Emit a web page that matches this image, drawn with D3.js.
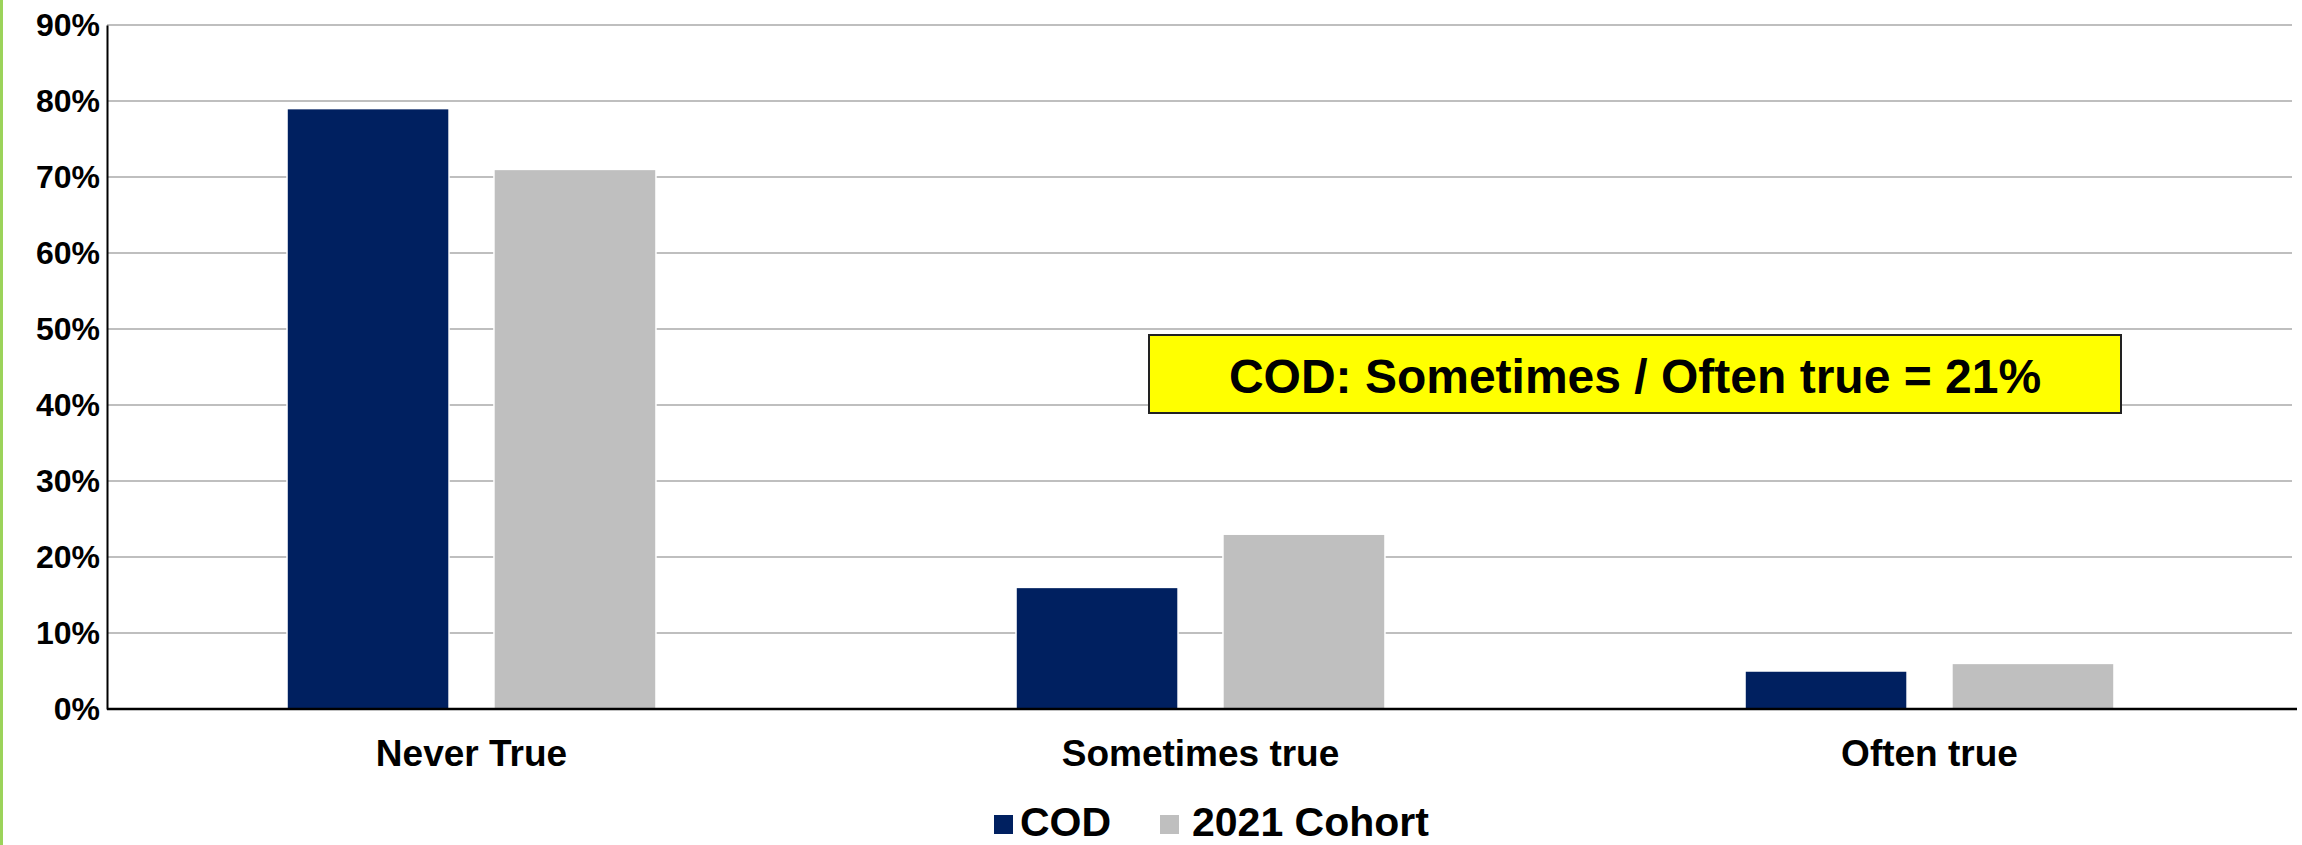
<!DOCTYPE html>
<html>
<head>
<meta charset="utf-8">
<script src="https://cdn.jsdelivr.net/npm/d3@7"></script>
<style>
  html, body { margin: 0; padding: 0; background: #ffffff; }
  svg { display: block; }
  text { font-family: "Liberation Sans", Arial, sans-serif; font-weight: bold; fill: #000; }
</style>
</head>
<body>
<svg id="chart" width="2302" height="845"></svg>
<script>
// Survey responses by category
const categories = ["Never True", "Sometimes true", "Often true"];
const seriesNames = ["COD", "2021 Cohort"];
const codValues = [0.79, 0.16, 0.05];
const cohortValues = [0.71, 0.23, 0.06];
const yTicks = [0, 0.1, 0.2, 0.3, 0.4, 0.5, 0.6, 0.7, 0.8, 0.9];
const calloutText = "COD: Sometimes / Often true = 21%";

const colors = { "COD": "#002060", "2021 Cohort": "#bfbfbf" };
const seriesValues = { "COD": codValues, "2021 Cohort": cohortValues };

const W = 2302, H = 845;
const plot = { left: 107, right: 2294, top: 25, bottom: 709 };

const svg = d3.select("#chart");

// thin green strip on the left edge
svg.append("rect").attr("x", 0).attr("y", 0).attr("width", 3).attr("height", H)
  .attr("fill", "#9bd35a");

const x = d3.scaleBand().domain(categories).range([plot.left, plot.right]).padding(0);
const xSub = d3.scaleBand().domain(seriesNames).range([0, x.bandwidth()])
  .paddingInner(0.217).paddingOuter(0.87);
const y = d3.scaleLinear().domain([0, 0.9]).range([plot.bottom, plot.top]);

// horizontal gridlines
svg.append("g").selectAll("line").data(yTicks.filter(t => t > 0)).join("line")
  .attr("x1", plot.left).attr("x2", 2292)
  .attr("y1", d => y(d)).attr("y2", d => y(d))
  .attr("stroke", "#bfbfbf").attr("stroke-width", 2);

// bars
const rows = categories.map((c, i) => ({ cat: c, vals: seriesNames.map(s => ({ s, v: seriesValues[s][i] })) }));
svg.append("g").selectAll("g").data(rows).join("g")
  .attr("transform", d => `translate(${x(d.cat)},0)`)
  .selectAll("rect").data(d => d.vals).join("rect")
  .attr("x", d => xSub(d.s))
  .attr("width", xSub.bandwidth())
  .attr("y", d => y(d.v))
  .attr("height", d => y(0) - y(d.v))
  .attr("fill", d => colors[d.s])
  .attr("stroke", "#ffffff").attr("stroke-width", 1.5);

// y axis
const yAxis = d3.axisLeft(y).tickValues(yTicks).tickFormat(d3.format(".0%")).tickSize(0).tickPadding(7);
const gy = svg.append("g").attr("transform", `translate(${plot.left},0)`).call(yAxis);
gy.select(".domain").attr("stroke", "#000").attr("stroke-width", 2);
gy.selectAll("text").style("font-size", "32px").attr("fill", "#000")
  .style("font-family", '"Liberation Sans", Arial, sans-serif').style("font-weight", "bold");

// x axis
const xAxis = d3.axisBottom(x).tickSize(0).tickPadding(0);
const gx = svg.append("g").attr("transform", `translate(0,${plot.bottom})`).call(xAxis);
gx.select(".domain").attr("d", `M${plot.left},0H2297`).attr("stroke", "#000").attr("stroke-width", 2.5);
gx.selectAll("text").attr("y", 57).attr("dy", null).style("font-size", "37px").attr("fill", "#000")
  .style("font-family", '"Liberation Sans", Arial, sans-serif').style("font-weight", "bold");

// callout box
const box = { x1: 1149, y1: 335, x2: 2121, y2: 413 };
svg.append("rect").attr("x", box.x1).attr("y", box.y1)
  .attr("width", box.x2 - box.x1).attr("height", box.y2 - box.y1)
  .attr("fill", "#ffff00").attr("stroke", "#222").attr("stroke-width", 2);
svg.append("text").attr("x", (box.x1 + box.x2) / 2).attr("y", 393)
  .attr("text-anchor", "middle").style("font-size", "48px").text(calloutText);

// legend
const legendItems = [
  { name: "COD", sx: 994, tx: 1020 },
  { name: "2021 Cohort", sx: 1160, tx: 1192 }
];
const lg = svg.append("g");
lg.selectAll("rect").data(legendItems).join("rect")
  .attr("x", d => d.sx).attr("y", 815).attr("width", 19).attr("height", 19)
  .attr("fill", d => colors[d.name]);
lg.selectAll("text").data(legendItems).join("text")
  .attr("x", d => d.tx).attr("y", 836).style("font-size", "41px").text(d => d.name);
</script>
</body>
</html>
